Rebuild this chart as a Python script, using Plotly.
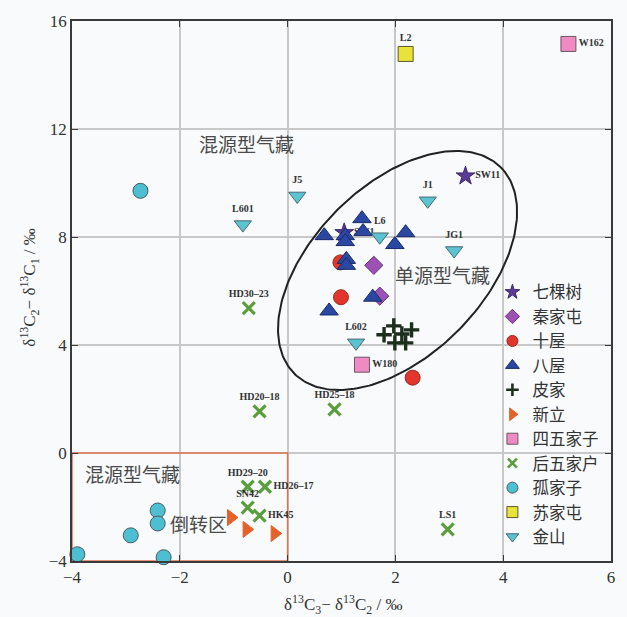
import numpy as np
import plotly.graph_objects as go

# ---- data: δ13C3-δ13C2 (x) vs δ13C2-δ13C1 (y), ‰ ----
qks_x = [3.30, 1.05]
qks_y = [10.26, 8.16]
qks_lab = ["SW11", "SW1"]

qjt_x = [1.60, 1.71]
qjt_y = [6.95, 5.81]

sw_x = [0.98, 0.99, 2.32]
sw_y = [7.06, 5.77, 2.79]

bw_x = [1.38, 0.68, 1.07, 1.07, 1.40, 2.19, 1.99, 1.09, 1.09, 1.58, 0.77]
bw_y = [8.68, 8.05, 8.05, 7.83, 8.20, 8.16, 7.72, 7.17, 6.95, 5.77, 5.26]

pj_x = [1.79, 1.97, 2.12, 2.30, 1.99, 2.19]
pj_y = [4.38, 4.71, 4.41, 4.56, 4.08, 4.08]

xl_x = [-1.05, -0.76, -0.24]
xl_y = [-2.39, -2.83, -2.98]

swjz_x = [5.21, 1.38]
swjz_y = [15.15, 3.27]
swjz_lab = ["W162", "W180"]

hwjh_x = [-0.72, -0.52, 0.87, -0.74, -0.42, -0.74, -0.52, 2.97]
hwjh_y = [5.37, 1.54, 1.62, -1.25, -1.25, -2.02, -2.32, -2.83]
hwjh_lab = ["HD30\u201323", "HD20\u201318", "HD25\u201318", "HD29\u201320",
            "HD26\u201317", "SN42", "HK45", "LS1"]
hwjh_pos = ["top center", "top center", "top center", "top center",
            "middle right", "top center", "middle right", "top center"]

gjz_x = [-2.73, -2.41, -2.41, -2.91, -3.90, -2.30]
gjz_y = [9.71, -2.13, -2.61, -3.05, -3.75, -3.86]

sjt_x = [2.19]
sjt_y = [14.78]
sjt_lab = ["L2"]

js_x = [0.18, 2.60, 1.71, 3.09, 1.27, -0.83]
js_y = [9.52, 9.34, 8.01, 7.50, 4.08, 8.46]
js_lab = ["J5", "J1", "L6", "JG1", "L602", "L601"]

x_ticks = [-4, -2, 0, 2, 4, 6]
y_ticks = [-4, 0, 4, 8, 12, 16]

# ---- figure geometry ----
W, H = 627, 617
ML, MR, MT, MB = 72, 12, 17, 56
XR = [-4, 6]
YR = [-4, 16]
px_per_x = (W - ML - MR) / (XR[1] - XR[0])
px_per_y = (H - MT - MB) / (YR[1] - YR[0])

label_font = dict(family="Liberation Serif", size=10, color="#333333",
                  weight="bold")

fig = go.Figure()

# single-source gas field ellipse (tilted 45° on screen)
cx, cy = 2.04, 6.76
a_px, b_px, phi = 147, 86, np.deg2rad(45)
t = np.linspace(0, 2 * np.pi, 240)
ex = cx + (a_px * np.cos(t) * np.cos(phi) - b_px * np.sin(t) * np.sin(phi)) / px_per_x
ey = cy + (a_px * np.cos(t) * np.sin(phi) + b_px * np.sin(t) * np.cos(phi)) / px_per_y
fig.add_trace(go.Scatter(x=ex, y=ey, mode="lines", showlegend=False,
                         hoverinfo="skip",
                         line=dict(color="#222222", width=2)))

# (name, x, y, symbol, fill, edge, size, edge width, legend size, labels, positions)
groups = [
    ("七棵树", qks_x, qks_y, "star", "#5a3c96", "#3a2470", 14, 1, 11,
     qks_lab, ["middle right", "middle right"]),
    ("秦家屯", qjt_x, qjt_y, "diamond", "#9c52b4", "#6a2f80", 14, 1, 11,
     None, None),
    ("十屋", sw_x, sw_y, "circle", "#e2362c", "#9a2a20", 15, 1, 11, None, None),
    ("八屋", bw_x, bw_y, "triangle-up", "#2a48a2", "#1a2a6a", 16, 1, 12,
     None, None),
    ("皮家", pj_x, pj_y, "cross-thin", "#1c2e1c", "#1c2e1c", 11, 3.4, 9,
     None, None),
    ("新立", xl_x, xl_y, "triangle-right", "#e2622a", "#e2622a", 14, 1, 11,
     None, None),
    ("四五家子", swjz_x, swjz_y, "square", "#f08ac2", "#6a5a64", 15, 1, 11,
     swjz_lab, ["middle right", "middle right"]),
    ("后五家户", hwjh_x, hwjh_y, "x-thin", "#5a9e3c", "#5a9e3c", 12, 3.2, 9,
     hwjh_lab, hwjh_pos),
    ("孤家子", gjz_x, gjz_y, "circle", "#4cbfd2", "#4a5a60", 15, 1, 11,
     None, None),
    ("苏家屯", sjt_x, sjt_y, "square", "#e9e23a", "#5a5a30", 15, 1, 11,
     sjt_lab, ["top center"]),
    ("金山", js_x, js_y, "triangle-down", "#5cc3d2", "#4a6a70", 15, 1, 11,
     js_lab, ["top center"] * len(js_lab)),
]

for name, xs, ys, sym, fill, edge, size, lw, lsize, labs, pos in groups:
    kw = dict(mode="markers")
    if labs is not None:
        kw = dict(mode="markers+text", text=labs, textposition=pos,
                  textfont=label_font)
    fig.add_trace(go.Scatter(
        x=xs, y=ys, name=name, showlegend=False, cliponaxis=False,
        marker=dict(symbol=sym, size=size, color=fill,
                    line=dict(color=edge, width=lw)), **kw))

# legend entries with smaller symbols
for name, xs, ys, sym, fill, edge, size, lw, lsize, labs, pos in groups:
    fig.add_trace(go.Scatter(
        x=[None], y=[None], name=name, mode="markers",
        marker=dict(symbol=sym, size=lsize, color=fill,
                    line=dict(color=edge, width=min(lw, 2.6)))))

# inversion zone box
fig.add_shape(type="rect", x0=-4, x1=0, y0=-4, y1=0, layer="between",
              line=dict(color="#dc7650", width=1.5))

region_font = dict(family="Noto Sans CJK SC", size=19, color="#4a4a4a")
for txt, x, y in [("混源型气藏", -0.77, 11.47), ("单源型气藏", 2.87, 6.62),
                  ("混源型气藏", -2.87, -0.77), ("倒转区", -1.66, -2.61)]:
    fig.add_annotation(x=x, y=y, text=txt, showarrow=False, font=region_font)

title_font = dict(family="Liberation Serif", size=17, color="#333333")
fig.add_annotation(xref="paper", yref="paper", x=0.503, y=-0.081,
                   yanchor="middle", xanchor="center",
                   text="δ<sup>13</sup>C<sub>3</sub>− δ<sup>13</sup>C<sub>2</sub> / ‰",
                   showarrow=False, font=title_font)
fig.add_annotation(xref="paper", yref="paper", x=-0.079, y=0.507,
                   xanchor="center", yanchor="middle",
                   text="δ<sup>13</sup>C<sub>2</sub>− δ<sup>13</sup>C<sub>1</sub> / ‰",
                   textangle=-90, showarrow=False, font=title_font)

axis_common = dict(showgrid=True, gridcolor="#c8c8c8", gridwidth=1.5,
                   zeroline=False, showline=True, linecolor="#3a3a3a",
                   linewidth=1.5, mirror="ticks", ticks="inside", ticklen=6,
                   tickcolor="#3a3a3a", tickwidth=1.2,
                   tickfont=dict(family="Liberation Serif", size=17,
                                 color="#333333"))

fig.update_layout(
    width=W, height=H,
    margin=dict(l=ML, r=MR, t=MT, b=MB),
    paper_bgcolor="#f8fafc", plot_bgcolor="#f8fafc",
    xaxis=dict(range=XR, tickvals=x_ticks, **axis_common),
    yaxis=dict(range=YR, tickvals=y_ticks, **axis_common),
    legend=dict(x=0.78, y=0.53, xanchor="left", yanchor="top",
                bgcolor="rgba(0,0,0,0)", itemwidth=30,
                font=dict(family="Noto Sans CJK SC", size=16.5,
                          color="#333333")),
    showlegend=True,
)

fig.write_html("out.html")
